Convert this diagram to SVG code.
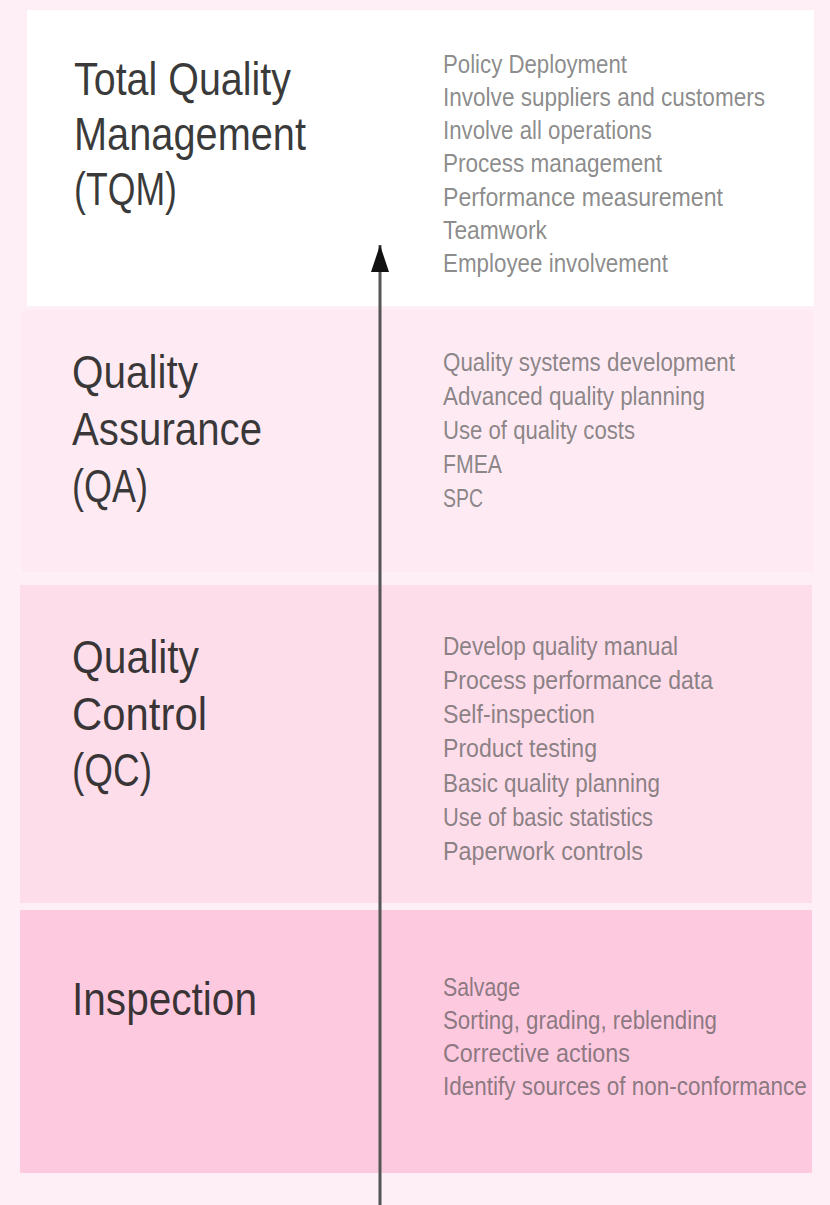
<svg xmlns="http://www.w3.org/2000/svg" width="830" height="1205" viewBox="0 0 830 1205">
<style>
.title{font-family:"Liberation Sans",Arial,sans-serif;font-size:47px;fill:#1e1e1e;fill-opacity:0.88}
.item{font-family:"Liberation Sans",Arial,sans-serif;font-size:26px;fill:#4a4a4a;fill-opacity:0.65}
</style>
<defs>
<marker id="arrow" markerWidth="28" markerHeight="22" refX="27" refY="11" orient="auto" markerUnits="userSpaceOnUse" viewBox="0 0 28 22">
<polygon points="0,2 27,11 0,20" fill="#111"/>
</marker>
</defs>
<rect width="830" height="1205" fill="#fdeff5"/>
<g id="tqm">
<rect x="27" y="10" width="787" height="296" fill="#ffffff"/>
<text class="title" x="74" y="95" textLength="217" lengthAdjust="spacingAndGlyphs">Total Quality</text>
<text class="title" x="74" y="150" textLength="232" lengthAdjust="spacingAndGlyphs">Management</text>
<text class="title" x="74" y="205" textLength="103" lengthAdjust="spacingAndGlyphs">(TQM)</text>
<text class="item" x="443" y="73" textLength="184" lengthAdjust="spacingAndGlyphs">Policy Deployment</text>
<text class="item" x="443" y="106" textLength="322" lengthAdjust="spacingAndGlyphs">Involve suppliers and customers</text>
<text class="item" x="443" y="139" textLength="209" lengthAdjust="spacingAndGlyphs">Involve all operations</text>
<text class="item" x="443" y="172" textLength="219" lengthAdjust="spacingAndGlyphs">Process management</text>
<text class="item" x="443" y="206" textLength="280" lengthAdjust="spacingAndGlyphs">Performance measurement</text>
<text class="item" x="443" y="239" textLength="104" lengthAdjust="spacingAndGlyphs">Teamwork</text>
<text class="item" x="443" y="272" textLength="225" lengthAdjust="spacingAndGlyphs">Employee involvement</text>
</g>
<g id="qa">
<rect x="22" y="310" width="792" height="262" fill="#fdeaf2"/>
<text class="title" x="72" y="388" textLength="126" lengthAdjust="spacingAndGlyphs">Quality</text>
<text class="title" x="72" y="445" textLength="190" lengthAdjust="spacingAndGlyphs">Assurance</text>
<text class="title" x="72" y="502" textLength="76" lengthAdjust="spacingAndGlyphs">(QA)</text>
<text class="item" x="443" y="371" textLength="292" lengthAdjust="spacingAndGlyphs">Quality systems development</text>
<text class="item" x="443" y="405" textLength="262" lengthAdjust="spacingAndGlyphs">Advanced quality planning</text>
<text class="item" x="443" y="439" textLength="192" lengthAdjust="spacingAndGlyphs">Use of quality costs</text>
<text class="item" x="443" y="473" textLength="59" lengthAdjust="spacingAndGlyphs">FMEA</text>
<text class="item" x="443" y="507" textLength="40" lengthAdjust="spacingAndGlyphs">SPC</text>
</g>
<g id="qc">
<rect x="20" y="585" width="792" height="318" fill="#fcdde9"/>
<text class="title" x="72" y="673" textLength="127" lengthAdjust="spacingAndGlyphs">Quality</text>
<text class="title" x="72" y="730" textLength="135" lengthAdjust="spacingAndGlyphs">Control</text>
<text class="title" x="72" y="786" textLength="80" lengthAdjust="spacingAndGlyphs">(QC)</text>
<text class="item" x="443" y="655" textLength="235" lengthAdjust="spacingAndGlyphs">Develop quality manual</text>
<text class="item" x="443" y="689" textLength="270" lengthAdjust="spacingAndGlyphs">Process performance data</text>
<text class="item" x="443" y="723" textLength="152" lengthAdjust="spacingAndGlyphs">Self-inspection</text>
<text class="item" x="443" y="757" textLength="154" lengthAdjust="spacingAndGlyphs">Product testing</text>
<text class="item" x="443" y="792" textLength="217" lengthAdjust="spacingAndGlyphs">Basic quality planning</text>
<text class="item" x="443" y="826" textLength="210" lengthAdjust="spacingAndGlyphs">Use of basic statistics</text>
<text class="item" x="443" y="860" textLength="200" lengthAdjust="spacingAndGlyphs">Paperwork controls</text>
</g>
<g id="inspection">
<rect x="20" y="910" width="792" height="263" fill="#fdc9df"/>
<text class="title" x="72" y="1015" textLength="185" lengthAdjust="spacingAndGlyphs">Inspection</text>
<text class="item" x="443" y="996" textLength="77" lengthAdjust="spacingAndGlyphs">Salvage</text>
<text class="item" x="443" y="1029" textLength="274" lengthAdjust="spacingAndGlyphs">Sorting, grading, reblending</text>
<text class="item" x="443" y="1062" textLength="187" lengthAdjust="spacingAndGlyphs">Corrective actions</text>
<text class="item" transform="translate(443,1095) scale(0.86,1)" x="0" y="0" textLength="423" lengthAdjust="spacingAndGlyphs">Identify sources of non-conformance</text>
</g>
<g id="connectors">
<line x1="380" y1="1205" x2="380" y2="245" stroke="#555" stroke-width="3" marker-end="url(#arrow)"/>
</g>
</svg>
